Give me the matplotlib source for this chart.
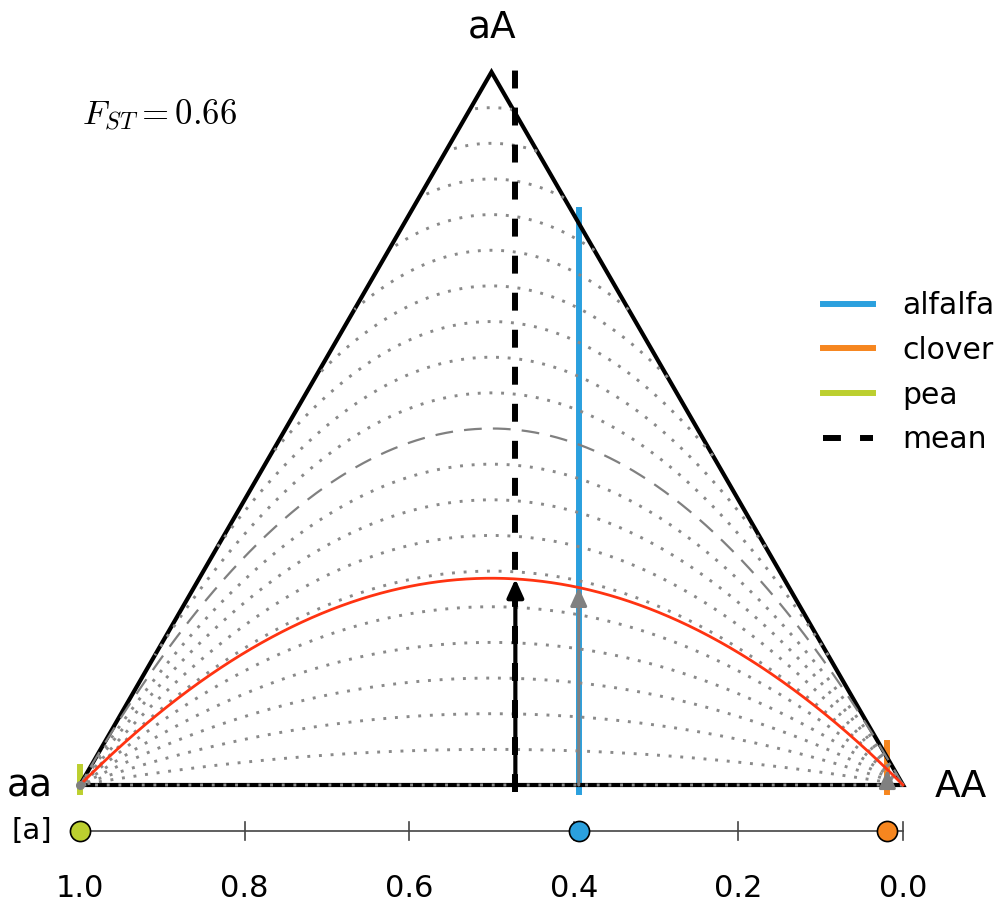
import matplotlib
import numpy as np

matplotlib.use('Agg')
import matplotlib.pyplot as plt

# populations and their frequency of allele a
populations = ['alfalfa', 'clover', 'pea']
freq_a = [0.394, 0.019, 1.0]
pop_colors = ['#2ba0de', '#f6861f', '#bccf2f']
line_tops = [0.806, 0.059, 0.025]   # top of each population's marker line (heterozygosity)

# inbreeding levels of the grey reference curves (F = 0 drawn dashed)
inbreeding_levels = [-0.9, -0.8, -0.7, -0.6, -0.5, -0.4, -0.3, -0.2, -0.1, 0.0,
                     0.1, 0.2, 0.3, 0.4, 0.5, 0.6, 0.7, 0.8, 0.9, 1.0]
red_F = 0.42

axis_ticks = [1.0, 0.8, 0.6, 0.4, 0.2, 0.0]
axis_ticklabels = ['1.0', '0.8', '0.6', '0.4', '0.2', '0.0']

plt.rcParams['mathtext.fontset'] = 'cm'

freq_a = np.array(freq_a)
mean_p = freq_a.mean()
H_T = 2 * mean_p * (1 - mean_p)
H_S = np.mean(2 * freq_a * (1 - freq_a))
fst = (H_T - H_S) / H_T

fig = plt.figure(figsize=(10.03, 9.02), dpi=100)
ax = fig.add_axes([0, 0, 1, 1])
ax.set_xlim(1.0972, -0.1215)
ax.set_ylim(-0.1641, 1.1010)
ax.axis('off')

p = np.linspace(0, 1, 2001)
edge = 2 * np.minimum(p, 1 - p)

# reference curves
for F in inbreeding_levels:
    h = 2 * p * (1 - p) * (1 - F)
    h = np.where(h > edge + 1e-9, np.nan, h)
    if F == 0.0:
        ax.plot(p, h, color='#808080', lw=1.6, ls=(0, (8, 5)), zorder=3)
    else:
        ax.plot(p, h, color='#8a8a8a', lw=2.1, ls=(0, (1, 3)), zorder=3)

# triangle
ax.plot([1, 0.5, 0, 1], [0, 1, 0, 0], color='black', lw=3, zorder=2,
        solid_joinstyle='miter')

# red curve
ax.plot(p, 2 * p * (1 - p) * (1 - red_F), color='#ff3311', lw=2, zorder=4)

# population lines
for name, f, c, top in zip(populations, freq_a, pop_colors, line_tops):
    ax.plot([f, f], [-0.01, top], color=c, lw=4.3, label=name, zorder=1.5)

# mean line
ax.plot([mean_p, mean_p], [-0.01, 1.003], color='black', lw=4.3,
        ls=(0, (3, 3.2)), label='mean', zorder=5)

# arrows from base up to red curve
head = '-|>,head_length=0.55,head_width=0.25'
for f in freq_a:
    hr = 2 * f * (1 - f) * (1 - red_F)
    if hr > 1e-6:
        ax.annotate('', xy=(f, hr), xytext=(f, 0),
                    arrowprops=dict(arrowstyle=head, color='#808080', lw=2.2,
                                    shrinkA=0, shrinkB=0, mutation_scale=20),
                    zorder=6)
    else:
        ax.plot([f], [0], 'o', color='#808080', ms=5.5, zorder=6)
hr = 2 * mean_p * (1 - mean_p) * (1 - red_F)
ax.annotate('', xy=(mean_p, hr), xytext=(mean_p, 0),
            arrowprops=dict(arrowstyle=head, color='black', lw=3, shrinkA=0,
                            shrinkB=0, mutation_scale=20), zorder=6)

# bottom [a] axis
y_ax = -0.0645
ax.plot([0, 1], [y_ax, y_ax], color='#444444', lw=1.2, zorder=2)
for t, lab in zip(axis_ticks, axis_ticklabels):
    ax.plot([t, t], [y_ax - 0.012, y_ax + 0.012], color='#444444', lw=1.2, zorder=2)
    ax.text(t, -0.1445, lab, ha='center', va='center', fontsize=22)
for f, c in zip(freq_a, pop_colors):
    ax.plot([f], [y_ax], 'o', color=c, mec='black', mew=1.2, ms=14.5, zorder=7)

# labels
ax.text(0.4994, 1.063, 'aA', ha='center', va='center', fontsize=27)
ax.text(1.033, -0.0168, 'aa', ha='right', va='baseline', fontsize=27)
ax.text(-0.0389, -0.0168, 'AA', ha='left', va='baseline', fontsize=27)
ax.text(1.034, y_ax, '[a]', ha='right', va='center', fontsize=21)
ax.text(0.9976, 0.9257, r'$F_{ST}=%.2f$' % fst, ha='left', va='baseline',
        fontsize=25)

ax.legend(loc='upper left', bbox_to_anchor=(823 / 1003, 1 - 291 / 902),
          frameon=False, fontsize=21.5, handlelength=1.67, handletextpad=1.0,
          borderpad=0, borderaxespad=0, labelspacing=0.53)

fig.savefig('out.png', dpi=100)
